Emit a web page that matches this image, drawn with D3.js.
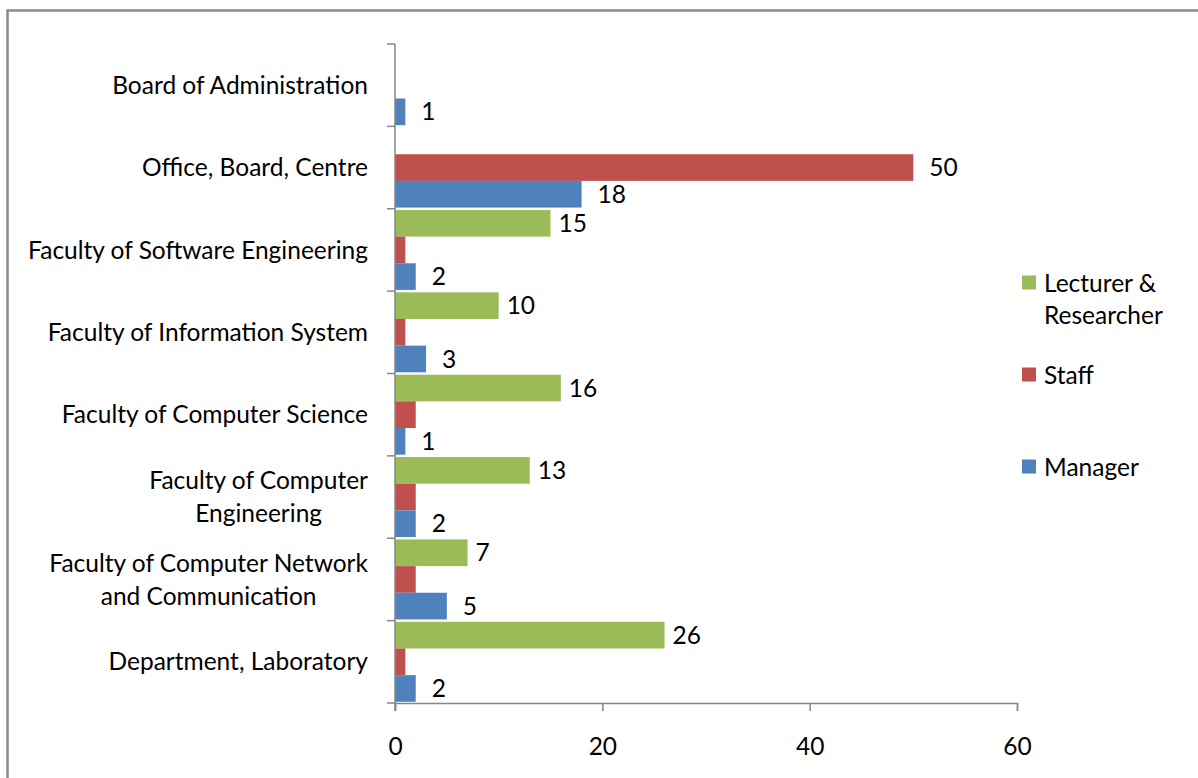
<!DOCTYPE html>
<html>
<head>
<meta charset="utf-8">
<script src="https://cdn.jsdelivr.net/npm/d3@7"></script>
<style>
  body { margin: 0; background: #fff; }
  text { font-family: Lato, "Open Sans", sans-serif; fill: #000; }
</style>
</head>
<body>
<div id="chart"></div>
<script>
// categories, top to bottom
var categories = [
  "Board of Administration",
  "Office, Board, Centre",
  "Faculty of Software Engineering",
  "Faculty of Information System",
  "Faculty of Computer Science",
  "Faculty of Computer Engineering",
  "Faculty of Computer Network and Communication",
  "Department, Laboratory"
];
// how the axis labels wrap
var categoryLines = [
  ["Board of Administration"],
  ["Office, Board, Centre"],
  ["Faculty of Software Engineering"],
  ["Faculty of Information System"],
  ["Faculty of Computer Science"],
  ["Faculty of Computer", "Engineering"],
  ["Faculty of Computer Network", "and Communication"],
  ["Department, Laboratory"]
];

var seriesNames = ["Lecturer & Researcher", "Staff", "Manager"];
var lecturer = [null, null, 15, 10, 16, 13, 7, 26];
var staff    = [null, 50, 1, 1, 2, 2, 2, 1];
var manager  = [1, 18, 2, 3, 1, 2, 5, 2];
// only some staff bars carry a data label
var staffLabelShown = [false, true, false, false, false, false, false, false];

var xTicks = [0, 20, 40, 60];

function init() {
  var w = 1198, h = 778;
  var fs = "24.5px";
  var colors = ["#9BBB59", "#C0504D", "#4F81BD"];
  var values = [lecturer, staff, manager];

  var svg = d3.select("#chart").append("svg")
      .attr("width", w)
      .attr("height", h);

  // outer chart frame
  svg.append("rect")
      .attr("x", 7.5).attr("y", 10.5)
      .attr("width", 1200).attr("height", 800)
      .attr("fill", "none")
      .attr("stroke", "#8a8a8a")
      .attr("stroke-width", 2.5);

  var xScale = d3.scaleLinear().domain([0, 60]).range([395, 1017]);
  var yScale = d3.scaleBand().domain(categories).range([44, 703]).padding(0);
  var inner = d3.scaleBand().domain(seriesNames)
      .range([0, yScale.bandwidth()])
      .paddingInner(0).paddingOuter(0.045);

  // bars, one group per series
  var groups = svg.selectAll("g.series")
      .data(seriesNames)
      .enter().append("g")
      .attr("class", "series")
      .attr("fill", function(d, i) { return colors[i]; });

  groups.each(function(name, si) {
    var rows = categories.map(function(c, ci) {
      return {cat: c, value: values[si][ci], ci: ci};
    }).filter(function(d) { return d.value != null; });

    d3.select(this).selectAll("rect")
        .data(rows)
        .enter().append("rect")
        .attr("x", xScale(0))
        .attr("y", function(d) { return yScale(d.cat) + inner(name); })
        .attr("width", function(d) { return xScale(d.value) - xScale(0); })
        .attr("height", inner.bandwidth());

    // data labels
    var off = si === 0 ? 8 : 16;
    d3.select(this).selectAll("text")
        .data(rows.filter(function(d) { return si !== 1 || staffLabelShown[d.ci]; }))
        .enter().append("text")
        .attr("x", function(d) { return xScale(d.value) + off; })
        .attr("y", function(d) { return yScale(d.cat) + inner(name) + inner.bandwidth() / 2; })
        .attr("dy", "0.35em")
        .style("font-size", fs)
        .text(function(d) { return d.value; });
  });

  // x axis
  var xAxis = d3.axisBottom(xScale).tickValues(xTicks).tickSize(8).tickPadding(27);
  var gx = svg.append("g")
      .attr("transform", "translate(0,703)")
      .call(xAxis);
  gx.select(".domain").attr("stroke", "#868686").attr("stroke-width", 1.5);
  gx.selectAll(".tick line").attr("stroke", "#868686").attr("stroke-width", 1.5);
  gx.selectAll(".tick text").style("font-size", fs).attr("fill", "#000")
      .style("font-family", "Lato, sans-serif");

  // y axis line and boundary ticks
  var edges = categories.map(function(c) { return yScale(c); }).concat([yScale.range()[1]]);
  svg.append("line")
      .attr("x1", xScale(0)).attr("x2", xScale(0))
      .attr("y1", 44).attr("y2", 711)
      .attr("stroke", "#868686").attr("stroke-width", 1.5);
  svg.selectAll("line.ytick")
      .data(edges)
      .enter().append("line")
      .attr("class", "ytick")
      .attr("x1", xScale(0) - 8).attr("x2", xScale(0))
      .attr("y1", function(d) { return d; }).attr("y2", function(d) { return d; })
      .attr("stroke", "#868686").attr("stroke-width", 1.5);

  // category labels (block right aligned, lines centered)
  var lineH = 33;
  categories.forEach(function(c, i) {
    var lines = categoryLines[i];
    var cy = yScale(c) + yScale.bandwidth() / 2;
    var t = svg.append("text").style("font-size", fs);
    lines.forEach(function(l, j) {
      t.append("tspan").attr("x", 0).attr("y", cy + (j - (lines.length - 1) / 2) * lineH)
          .attr("dy", "0.35em").text(l);
    });
    // measure, then right align block with centered lines
    var widths = [];
    t.selectAll("tspan").each(function() { widths.push(this.getComputedTextLength()); });
    var maxW = d3.max(widths);
    var right = 368;
    t.selectAll("tspan").attr("x", right - maxW / 2).attr("text-anchor", "middle");
  });

  // legend
  var legendLines = [["Lecturer &", "Researcher"], ["Staff"], ["Manager"]];
  var legendY = [283, 375, 467];
  seriesNames.forEach(function(s, i) {
    svg.append("rect")
        .attr("x", 1022).attr("y", legendY[i] - 7.5)
        .attr("width", 14).attr("height", 14)
        .attr("fill", colors[i]);
    var t = svg.append("text").style("font-size", fs);
    legendLines[i].forEach(function(l, j) {
      t.append("tspan").attr("x", 1044).attr("y", legendY[i] + j * 32)
          .attr("dy", "0.35em").text(l);
    });
  });
}

window.onload = init;
</script>
</body>
</html>
